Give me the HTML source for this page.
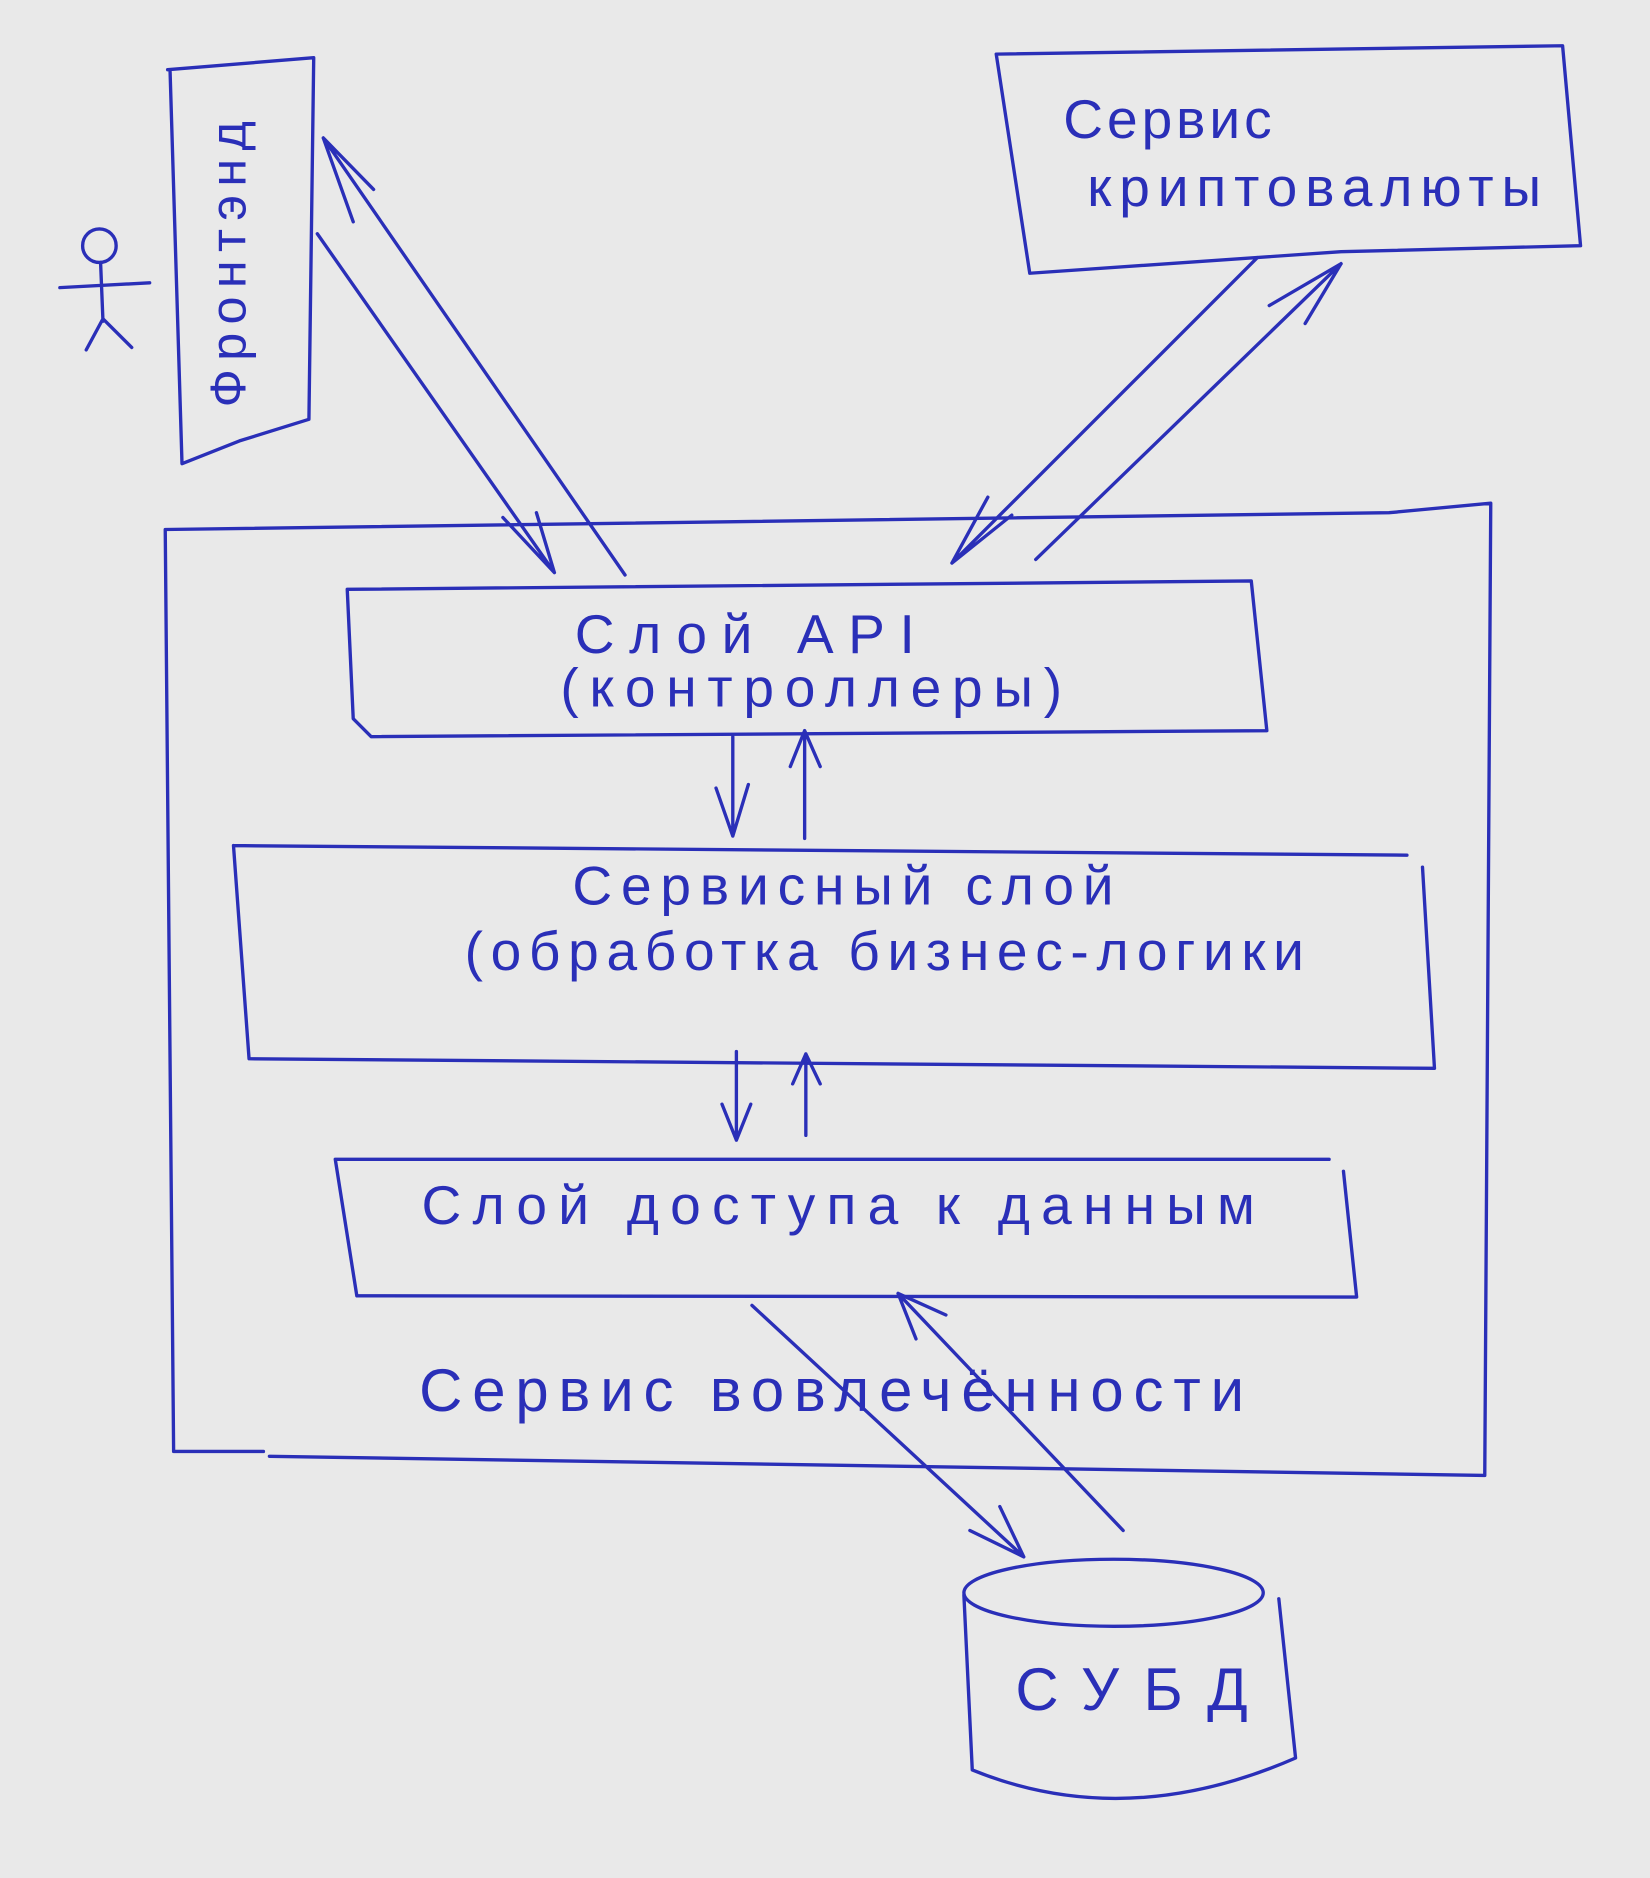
<!DOCTYPE html>
<html><head><meta charset="utf-8"><style>
html,body{margin:0;padding:0;background:#e9e9e9;}
svg{display:block}
text{font-family:"Liberation Sans","Noto Sans CJK SC",sans-serif;fill:#2a2fb8;letter-spacing:6px}
</style></head><body>
<svg width="1650" height="1878" viewBox="0 0 1378 1568" xmlns="http://www.w3.org/2000/svg">
<rect width="1378" height="1568" fill="#e9e9e9"/>
<g fill="none" stroke="#2a2fb8" stroke-width="2.8" stroke-linecap="round" stroke-linejoin="round">
<path d="M140 58 L262 48 L258 350 L200 368 L152 387 L142 58"/>
<circle cx="83" cy="205" r="14"/>
<path d="M84 219 L86 268 M50 240 L125 236 M86 266 L72 292 M86 266 L110 290"/>
<path d="M832 45 L1305 38 L1320 205 L1120 210 L860 228 Z"/>
<path d="M138 442 L1160 428 L1245 420 L1240 1232 L225 1216 M220 1212 L145 1212 L138 442"/>
<path d="M290 492 L1045 485 L1058 610 L310 615 L295 600 L290 492"/>
<path d="M195 706 L1175 714 M1188 724 L1198 892 L208 884 L195 706"/>
<path d="M280 968 L1110 968 M1122 978 L1133 1083 L298 1082 L280 968"/>
<ellipse cx="930" cy="1330" rx="125" ry="28"/>
<path d="M805 1332 L812 1478 Q940 1530 1082 1468 L1068 1335"/>
<path d="M265 195 L463 478 M420 432 L463 478 L448 428"/>
<path d="M522 480 L270 115 M270 115 L312 158 M270 115 L295 185"/>
<path d="M1050 215 L795 470 M795 470 L845 430 M795 470 L825 415"/>
<path d="M865 467 L1120 220 M1120 220 L1060 255 M1120 220 L1090 270"/>
<path d="M612 615 L612 698 M598 658 L612 698 L625 655"/>
<path d="M672 700 L672 610 M660 640 L672 610 L685 640"/>
<path d="M615 878 L615 952 M603 922 L615 952 L627 922"/>
<path d="M673 948 L673 880 M662 905 L673 880 L685 905"/>
<path d="M628 1090 L855 1300 M810 1278 L855 1300 L835 1258"/>
<path d="M938 1278 L750 1080 M750 1080 L790 1098 M750 1080 L765 1118"/>
</g>
<text x="0" y="0" font-size="42" textLength="245" lengthAdjust="spacing" transform="translate(205,340) rotate(-90)">Фронтэнд</text>
<text x="888" y="115" font-size="46" textLength="180" lengthAdjust="spacing">Сервис</text>
<text x="908" y="172" font-size="46" textLength="385" lengthAdjust="spacing">криптовалюты</text>
<text x="480" y="545" font-size="46" textLength="290" lengthAdjust="spacing">Слой API</text>
<text x="468" y="590" font-size="46" textLength="425" lengthAdjust="spacing">(контроллеры)</text>
<text x="478" y="755" font-size="46" textLength="458" lengthAdjust="spacing">Сервисный слой</text>
<text x="388" y="810" font-size="46" textLength="707" lengthAdjust="spacing">(обработка бизнес-логики</text>
<text x="352" y="1022" font-size="46" textLength="702" lengthAdjust="spacing">Слой доступа к данным</text>
<text x="350" y="1178" font-size="50" textLength="695" lengthAdjust="spacing">Сервис вовлечённости</text>
<text x="848" y="1428" font-size="50" textLength="200" lengthAdjust="spacing">СУБД</text>
</svg>
</body></html>
